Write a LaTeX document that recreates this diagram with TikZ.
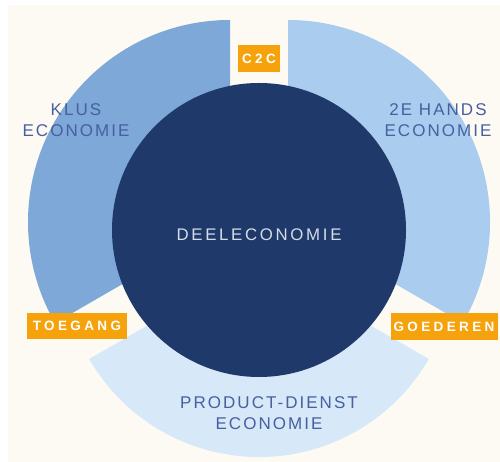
\documentclass[tikz,border=0pt]{standalone}
\usepackage{fontspec}
\setmainfont{Liberation Sans}
\newfontfamily\labelfont[LetterSpace=12]{Liberation Sans}
\newfontfamily\deelfont[LetterSpace=16]{Liberation Sans}
\newfontfamily\tagfont[LetterSpace=25]{Liberation Sans}
\usepackage{tikz}
\usetikzlibrary{positioning}
\definecolor{cream}{HTML}{FDFAF4}
\definecolor{klusblue}{HTML}{7DA8D8}
\definecolor{handsblue}{HTML}{AACCEE}
\definecolor{dienstblue}{HTML}{D7E8F8}
\definecolor{deeldark}{HTML}{1F3A6A}
\definecolor{tagorange}{HTML}{F5A20C}
\definecolor{labelblue}{HTML}{4660A0}
\definecolor{deeltext}{HTML}{D5DCE8}
\tikzset{seglabel/.style={text=labelblue,align=center,inner sep=0pt,
        font=\labelfont\fontsize{17}{20.5}\selectfont}}
\tikzset{tagbox/.style={fill=tagorange,text=white,inner sep=0pt,minimum height=26.5pt,
        font=\tagfont\bfseries\fontsize{13.5}{15}\selectfont}}

\begin{document}
\begin{tikzpicture}[x=1pt,y=1pt]
            \useasboundingbox (0,0) rectangle (500,462);
            \fill[cream] (8,0) rectangle (500,457);
            % centres of the three loose ring parts
            \coordinate (klusc) at (230,240);
            \coordinate (handsc) at (288,240);
            \coordinate (dienstc) at (259,201);
            \fill[klusblue] (klusc) ++(90:202) arc[start angle=90,end angle=210,radius=202]
                -- ++(210:-92) arc[start angle=210,end angle=90,radius=110] -- cycle;
            \fill[handsblue] (handsc) ++(-30:202) arc[start angle=-30,end angle=90,radius=202]
                -- ++(90:-92) arc[start angle=90,end angle=-30,radius=110] -- cycle;
            \fill[dienstblue] (dienstc) ++(210:196) arc[start angle=210,end angle=330,radius=196]
                -- ++(330:-86) arc[start angle=330,end angle=210,radius=110] -- cycle;
            \node[circle,fill=deeldark,inner sep=0pt,minimum size=294pt] (deel) at (259,232) {};
            \node[text=deeltext,inner sep=0pt,font=\deelfont\fontsize{16.8}{20}\selectfont]
                (deelname) at ([yshift=-5pt]deel.center) {DEELECONOMIE};
            \node[seglabel] (klus) at (76,342) {KLUS\\ECONOMIE};
            \node[seglabel] (hands) at (438,342) {2E HANDS\\ECONOMIE};
            \node[seglabel] (dienst) at (269,49) {PRODUCT-DIENST\\ECONOMIE};
            \node[tagbox,minimum width=42pt] (c2c) at (259,403.5) {C2C};
            \node[tagbox,minimum width=100pt] (toegang) at (77,136) {TOEGANG};
            \node[tagbox,minimum width=107pt] (goederen) at (444,135.5) {GOEDEREN};
        \end{tikzpicture}
\end{document}
